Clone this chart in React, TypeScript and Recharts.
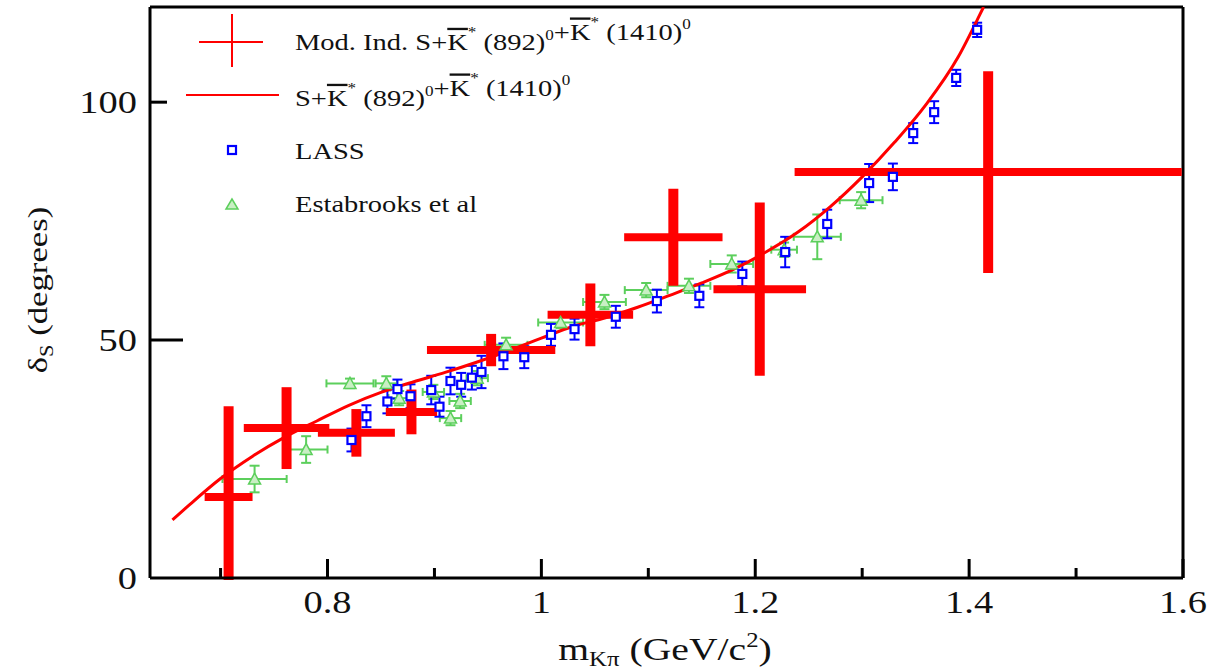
import React from 'react';
import { ComposedChart, Scatter, Line, XAxis, YAxis, ErrorBar, ReferenceLine } from 'recharts';

// Model-independent fit (red crosses)
const modMass = [0.7075, 0.7617, 0.827, 0.8785, 0.953, 1.0458, 1.1234, 1.2042, 1.4178];
const modPhase = [17.0, 31.5, 30.5, 34.9, 47.9, 55.3, 71.6, 60.7, 85.3];
const modMassErr = [0.0224, 0.040, 0.036, 0.024, 0.060, 0.040, 0.046, 0.0433, 0.181];
const modPhaseErrLow = [17.4, 8.6, 5.0, 4.7, 3.4, 6.6, 10.2, 18.2, 21.2];
const modPhaseErrHigh = [19.1, 8.6, 5.0, 4.7, 3.4, 6.6, 10.2, 18.2, 21.2];

// LASS (blue squares)
const lassMass = [0.8224, 0.8364, 0.856, 0.8654, 0.8776, 0.897, 0.9047, 0.915, 0.925, 0.935, 0.944, 0.9645, 0.984, 1.009, 1.031, 1.0696, 1.108, 1.1477, 1.1879, 1.228, 1.2673, 1.3065, 1.3287, 1.3477, 1.3673, 1.3879, 1.4075];
const lassPhase = [29.0, 34.0, 37.1, 39.7, 38.2, 39.5, 36.0, 41.4, 40.6, 42.1, 43.3, 46.6, 46.4, 51.1, 52.3, 54.9, 58.2, 59.3, 63.9, 68.5, 74.4, 83.0, 84.3, 93.5, 97.9, 105.1, 115.2];
const lassErr = [2.4, 2.3, 2.5, 2.0, 2.5, 3.0, 2.1, 2.8, 2.5, 2.5, 3.4, 2.7, 2.3, 2.3, 2.2, 2.3, 2.4, 2.4, 2.6, 3.2, 3.0, 4.0, 2.8, 2.1, 2.3, 1.7, 1.5];

// Estabrooks et al (green triangles)
const estMass = [0.7318, 0.780, 0.821, 0.855, 0.867, 0.899, 0.915, 0.924, 0.940, 0.967, 1.018, 1.059, 1.098, 1.138, 1.178, 1.227, 1.258, 1.299];
const estPhase = [20.8, 27.0, 40.9, 40.9, 37.8, 39.1, 33.6, 37.2, 42.0, 49.0, 53.7, 58.0, 60.5, 61.4, 66.0, 69.0, 71.7, 79.4];
const estMassErr = [0.030, 0.020, 0.022, 0.010, 0.010, 0.010, 0.010, 0.010, 0.010, 0.020, 0.021, 0.020, 0.020, 0.020, 0.020, 0.012, 0.022, 0.020];
const estPhaseErr = [2.8, 2.8, 1.0, 1.5, 1.5, 1.5, 1.5, 1.5, 1.5, 1.5, 1.2, 1.5, 1.5, 1.5, 1.8, 1.5, 4.7, 1.7];

// S + K*(892) + K*(1410) curve
const curveMass = [0.655, 0.67, 0.70, 0.73, 0.76, 0.79, 0.82, 0.85, 0.88, 0.91, 0.94, 0.97, 1.00, 1.03, 1.06, 1.09, 1.12, 1.15, 1.18, 1.21, 1.24, 1.27, 1.30, 1.33, 1.36, 1.39, 1.41, 1.4135];
const curvePhase = [12.2, 15.2, 20.9, 25.6, 29.6, 33.0, 36.3, 39.0, 41.2, 43.2, 45.4, 47.8, 50.4, 52.9, 54.7, 56.9, 59.4, 62.0, 64.9, 68.5, 72.7, 78.0, 84.3, 91.5, 99.6, 109.6, 118.4, 120.0];

const xTicks = [0.7, 0.8, 0.9, 1.0, 1.1, 1.2, 1.3, 1.4, 1.5, 1.6];
const xMajorTicks = [0.8, 1.0, 1.2, 1.4, 1.6];
const xMajorLabels = ['0.8', '1', '1.2', '1.4', '1.6'];
const yTicks = [0, 50, 100];
const yTickLabels = ['0', '50', '100'];

const modData = modMass.map((x, i) => ({ x, y: modPhase[i], ex: modMassErr[i], ey: [modPhaseErrLow[i], modPhaseErrHigh[i]] }));
const lassData = lassMass.map((x, i) => ({ x, y: lassPhase[i], ey: lassErr[i] }));
const estData = estMass.map((x, i) => ({ x, y: estPhase[i], ex: estMassErr[i], ey: estPhaseErr[i] }));
const curveData = curveMass.map((x, i) => ({ x, y: curvePhase[i] }));

const RED = '#ff0000';
const BLUE = '#0000ff';
const GREEN = '#5ccf5c';
const FONT = '"Liberation Serif", "Times New Roman", serif';
const SX = 1.24;

const XTick = (props: any) => {
  const { x, y, payload } = props;
  const idx = xMajorTicks.findIndex((m) => Math.abs(m - payload.value) < 1e-6);
  const major = idx >= 0;
  return (
    <g>
      <line x1={x} x2={x} y1={y} y2={y - (major ? 19 : 10)} stroke="#000" strokeWidth={3} />
      {major && (
        <text transform={`translate(${x},${y + 35}) scale(${SX},1)`} textAnchor="middle" fontFamily={FONT} fontSize={31} fill="#111">
          {xMajorLabels[idx]}
        </text>
      )}
    </g>
  );
};

const YTick = (props: any) => {
  const { x, y, payload } = props;
  const idx = yTicks.findIndex((m) => Math.abs(m - payload.value) < 1e-6);
  const len = payload.value === 50 ? 33 : payload.value === 100 ? 17 : 0;
  return (
    <g>
      {len > 0 && <line x1={x} x2={x + len} y1={y} y2={y} stroke="#000" strokeWidth={3} />}
      <text transform={`translate(${x - 13},${y + 11}) scale(${SX},1)`} textAnchor="end" fontFamily={FONT} fontSize={31} fill="#111">
        {yTickLabels[idx]}
      </text>
    </g>
  );
};

const Square = (p: any) => (
  <rect x={p.cx - 4} y={p.cy - 4} width={8} height={8} fill="#fff" stroke={BLUE} strokeWidth={2.2} />
);
const Tri = (p: any) => (
  <polygon
    points={`${p.cx},${p.cy - 6} ${p.cx - 6},${p.cy + 5} ${p.cx + 6},${p.cy + 5}`}
    fill="#c9efc4"
    stroke={GREEN}
    strokeWidth={1.5}
  />
);
const Nothing = () => <g />;

const KBar = ({ fs }: { fs: number }) => (
  <>
    <tspan style={{ textDecoration: 'overline' }}>K</tspan>
    <tspan fontSize={fs * 0.6} dy={-fs * 0.55}>*</tspan>
    <tspan dy={fs * 0.55}> </tspan>
  </>
);

const Sup = ({ t, fs }: { t: string; fs: number }) => (
  <>
    <tspan fontSize={fs * 0.6} dy={-fs * 0.45}>{t}</tspan>
    <tspan dy={fs * 0.45}></tspan>
  </>
);

const Overlay = () => {
  const fs = 23;
  return (
    <svg width={1210} height={669} style={{ position: 'absolute', left: 0, top: 0, pointerEvents: 'none' }}>
      {/* legend */}
      <line x1={199} x2={263} y1={42} y2={42} stroke={RED} strokeWidth={2} />
      <line x1={232} x2={232} y1={14} y2={67} stroke={RED} strokeWidth={2} />
      <text transform={`translate(295,50) scale(${SX},1)`} fontFamily={FONT} fontSize={fs} fill="#111">
        Mod. Ind. S+<KBar fs={fs} />(892)<Sup t="0" fs={fs} />+<KBar fs={fs} />(1410)<Sup t="0" fs={fs} />
      </text>
      <line x1={186} x2={279} y1={95} y2={95} stroke={RED} strokeWidth={2} />
      <text transform={`translate(295,106) scale(${SX},1)`} fontFamily={FONT} fontSize={fs} fill="#111">
        S+<KBar fs={fs} />(892)<Sup t="0" fs={fs} />+<KBar fs={fs} />(1410)<Sup t="0" fs={fs} />
      </text>
      <rect x={228} y={146} width={8} height={8} fill="#fff" stroke={BLUE} strokeWidth={2.2} />
      <text transform={`translate(295,159) scale(${SX},1)`} fontFamily={FONT} fontSize={fs} fill="#111">LASS</text>
      <polygon points="232,199 226,209 238,209" fill="#c9efc4" stroke={GREEN} strokeWidth={1.5} />
      <text transform={`translate(295,212) scale(${SX},1)`} fontFamily={FONT} fontSize={fs} fill="#111">Estabrooks et al</text>
      {/* axis titles */}
      <text transform={`translate(665,660) scale(${SX},1)`} textAnchor="middle" fontFamily={FONT} fontSize={32} fill="#111">
        m<tspan fontSize={20} dy={6}>Kπ</tspan>
        <tspan dy={-6}> (GeV/c</tspan>
        <tspan fontSize={20} dy={-13}>2</tspan>
        <tspan dy={13}>)</tspan>
      </text>
      <text transform={`translate(47,290) rotate(-90) scale(${SX},1)`} textAnchor="middle" fontFamily={FONT} fontSize={28} fill="#111">
        δ<tspan fontSize={18} dy={6}>S</tspan>
        <tspan dy={-6}> (degrees)</tspan>
      </text>
    </svg>
  );
};

export default function App() {
  return (
    <div style={{ position: 'absolute', left: 0, top: 0, width: 1210, height: 669, background: '#fff' }}>
      <ComposedChart width={1210} height={669} margin={{ top: 7, right: 27, bottom: 0, left: 50 }}>
        <XAxis
          type="number"
          dataKey="x"
          domain={[0.634, 1.6]}
          allowDataOverflow
          ticks={xTicks}
          interval={0}
          height={91}
          tickSize={0}
          tickMargin={0}
          tickLine={false}
          axisLine={{ stroke: '#000', strokeWidth: 3 }}
          tick={<XTick />}
        />
        <YAxis
          type="number"
          dataKey="y"
          domain={[0, 120]}
          allowDataOverflow
          ticks={yTicks}
          interval={0}
          width={100}
          tickSize={0}
          tickMargin={0}
          tickLine={false}
          axisLine={{ stroke: '#000', strokeWidth: 3 }}
          tick={<YTick />}
        />
        <ReferenceLine y={120} stroke="#000" strokeWidth={3} />
        <ReferenceLine x={1.6} stroke="#000" strokeWidth={3} />
        <Scatter data={estData} dataKey="y" shape={Tri} isAnimationActive={false}>
          <ErrorBar dataKey="ex" direction="x" width={4} stroke={GREEN} strokeWidth={2} />
          <ErrorBar dataKey="ey" direction="y" width={5} stroke={GREEN} strokeWidth={2} />
        </Scatter>
        <Scatter data={lassData} dataKey="y" shape={Square} isAnimationActive={false}>
          <ErrorBar dataKey="ey" direction="y" width={5} stroke={BLUE} strokeWidth={2} />
        </Scatter>
        <Line data={curveData} dataKey="y" type="monotone" stroke={RED} strokeWidth={3} dot={false} activeDot={false} isAnimationActive={false} />
        <Scatter data={modData} dataKey="y" shape={Nothing} isAnimationActive={false}>
          <ErrorBar dataKey="ex" direction="x" width={0} stroke={RED} strokeWidth={8} />
          <ErrorBar dataKey="ey" direction="y" width={0} stroke={RED} strokeWidth={10} />
        </Scatter>
      </ComposedChart>
      <Overlay />
    </div>
  );
}
